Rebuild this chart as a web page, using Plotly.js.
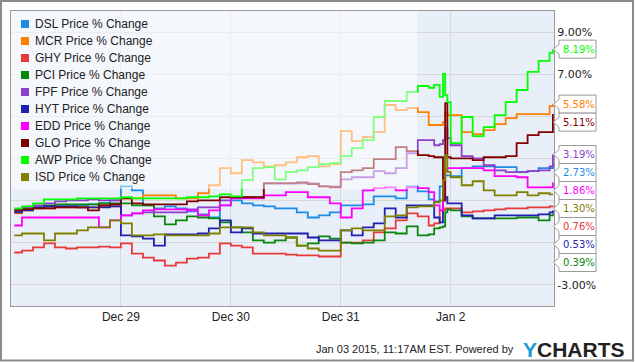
<!DOCTYPE html>
<html>
<head>
<meta charset="utf-8">
<script src="https://cdn.plot.ly/plotly-3.0.1.min.js"></script>
<style>
html,body{margin:0;padding:0;background:#ffffff;}
#chart{width:635px;height:362px;}
</style>
</head>
<body>
<div id="chart"></div>
<script>
// ---- data (x in trading days from Dec 26 open; Dec 29 = 1, Dec 30 = 2, Dec 31 = 3, Jan 2 = 4) ----
const times = [0.03,0.1,0.2,0.3,0.4,0.5,0.6,0.7,0.8,0.9,
  1.0,1.1,1.2,1.3,1.4,1.5,1.6,1.7,1.8,1.9,
  2.0,2.1,2.2,2.3,2.4,2.5,2.6,2.7,2.8,2.9,
  3.0,3.1,3.2,3.3,3.4,3.5,3.6,3.7,3.8,3.85,
  3.9,3.93,3.95,3.97,4.0,4.1,4.2,4.3,4.4,4.5,
  4.6,4.7,4.8,4.9,4.93];

const xTickVals = [1, 2, 3, 4];
const xTickLabels = ['Dec 29', 'Dec 30', 'Dec 31', 'Jan 2'];
const yTickVals = [-3, -1, 1, 3, 5, 7, 9];
const yTickLabels = ['-3.00%', '', '', '', '', '7.00%', '9.00%'];

const seriesNames = ['DSL', 'MCR', 'GHY', 'PCI', 'FPF', 'HYT', 'EDD', 'GLO', 'AWP', 'ISD'];

const dsl = [0.49,0.59,0.63,0.68,0.73,0.73,0.78,0.82,0.87,1.01,
  1.68,1.49,0.78,0.63,0.73,0.63,0.49,0.35,0.20,0.78,
  1.01,0.87,0.78,0.73,0.63,0.63,0.44,0.20,0.30,0.44,
  0.78,0.78,0.82,1.20,1.20,1.11,1.68,1.44,1.06,0.97,
  1.68,2.06,2.20,2.20,2.16,2.54,2.63,2.63,2.59,2.59,
  2.35,2.40,2.54,2.54,2.73];
const mcr = [0.40,0.54,0.63,0.63,0.68,0.68,0.68,0.68,0.73,0.73,
  1.11,1.11,1.25,1.25,1.25,1.11,1.11,1.35,1.73,2.54,
  2.30,2.92,2.82,2.63,2.68,2.82,3.06,3.11,2.63,2.73,
  4.30,3.82,4.01,4.25,5.54,5.30,5.39,5.20,4.59,4.59,
  4.59,4.73,5.16,5.06,5.06,4.25,4.16,4.35,4.63,4.92,
  5.11,5.11,5.11,5.49,5.58];
const ghy = [-1.46,-1.37,-1.22,-1.03,-1.22,-1.27,-1.22,-1.22,-1.18,-1.22,
  -1.03,-1.51,-1.70,-1.84,-2.08,-1.94,-1.75,-1.70,-1.51,-1.03,
  -1.13,-1.22,-1.51,-1.51,-1.51,-1.56,-1.60,-1.60,-1.65,-1.65,
  -0.99,-0.99,-0.89,-0.51,-0.32,0.06,0.40,0.25,-0.18,-0.08,
  0.54,0.54,0.63,0.63,0.63,0.44,0.49,0.54,0.59,0.63,
  0.63,0.68,0.68,0.73,0.76];
const pci = [0.54,0.63,0.68,0.78,0.82,0.82,0.82,0.82,0.87,0.87,
  0.87,0.78,0.78,0.25,-0.13,0.06,0.25,0.20,0.16,-0.03,
  -0.27,-0.51,-0.89,-0.99,-0.89,-0.75,-1.13,-1.03,-0.70,-0.80,
  -0.99,-1.03,-0.99,-0.89,-0.51,-0.56,-0.22,-0.65,-0.60,-0.32,
  -0.27,-0.22,0.44,0.59,0.54,0.25,0.16,0.16,0.16,0.16,
  0.20,0.20,0.06,0.30,0.39];
const fpf = [0.54,0.68,0.78,0.87,0.97,1.01,1.01,1.06,1.01,1.01,
  0.30,0.40,0.44,0.44,0.44,0.44,0.59,0.68,0.68,1.01,
  1.16,1.16,1.16,1.82,1.82,1.82,1.82,1.82,1.68,1.68,
  2.01,2.11,2.11,2.40,2.30,2.54,3.25,3.87,3.87,3.63,
  3.68,3.87,4.44,3.97,3.63,3.11,3.01,2.68,2.44,2.35,
  2.35,2.40,2.44,2.63,3.19];
const hyt = [0.44,0.54,0.68,0.73,0.73,0.73,0.68,0.68,0.68,0.73,
  -0.65,-0.70,-0.80,-1.13,-0.60,-0.60,-0.60,-0.56,-0.32,0.06,
  -0.51,-0.32,-0.56,-0.56,-0.56,-0.56,-0.56,-0.75,-0.89,-0.89,
  -0.41,-0.65,-0.27,-0.08,0.63,0.20,0.78,0.78,0.78,0.20,
  -0.03,1.01,1.16,0.87,0.87,0.30,0.16,0.16,0.30,0.30,
  0.30,0.30,0.35,0.44,0.53];
const edd = [-0.18,0.20,0.20,0.20,0.20,0.20,0.20,0.20,-0.27,0.06,
  0.30,0.40,0.54,0.59,0.59,0.59,0.54,0.30,0.54,0.78,
  1.11,1.11,1.11,1.25,1.25,1.40,1.40,1.16,1.16,0.87,
  0.20,0.63,1.49,1.59,1.63,1.49,1.63,1.59,1.40,0.78,
  0.54,1.25,2.44,2.54,2.54,2.54,2.54,2.44,2.16,2.16,
  2.11,1.63,1.63,1.63,1.86];
const glo = [0.54,0.59,0.63,0.63,0.68,0.68,0.68,0.54,0.78,0.82,
  1.11,0.87,0.82,0.82,0.82,0.82,0.97,1.01,1.01,1.16,
  1.16,1.16,1.16,1.82,1.82,1.82,1.87,1.78,1.68,1.63,
  2.35,2.44,2.54,2.97,2.97,3.54,3.35,3.16,3.11,3.06,
  3.06,1.01,5.63,3.06,3.01,3.01,2.92,3.06,3.06,3.11,
  3.73,4.11,4.25,4.25,5.11];
const awp = [0.63,0.73,0.87,1.06,1.06,1.06,1.11,1.11,1.11,1.11,
  1.16,1.11,1.11,1.11,1.11,1.11,1.16,1.16,1.20,1.30,
  1.20,1.97,2.54,2.59,2.01,2.35,2.44,2.59,2.73,2.78,
  3.11,3.49,3.87,4.97,5.73,5.73,6.16,6.44,6.35,6.49,
  5.92,7.01,6.01,5.68,3.73,4.97,4.06,4.49,5.06,5.68,
  6.25,7.11,7.63,8.01,8.19];
const isd = [-0.65,-0.56,-0.56,-0.89,-0.56,-0.56,-0.41,-0.27,-0.27,0.06,
  -0.08,-0.65,-0.65,-0.60,-0.65,-0.65,-0.65,-0.65,-0.56,-0.27,
  -0.27,-0.27,-0.51,-0.65,-0.65,-0.75,-1.13,-1.27,-1.37,-1.37,
  -0.41,-0.32,-0.41,-0.41,0.25,0.30,0.68,0.73,0.73,0.92,
  1.01,1.97,3.16,2.35,2.11,1.73,1.92,1.49,1.25,1.25,
  1.40,1.25,1.35,1.30,1.30];

const seriesValues = [dsl, mcr, ghy, pci, fpf, hyt, edd, glo, awp, isd];

// ---- styles ----
const seriesColors = ['#1b8de8', '#fe8001', '#e83a3a', '#0a870a', '#8c3fc8',
                      '#1f1fb0', '#ff00ff', '#800000', '#00ff00', '#808000'];

const W = 635, H = 362, ML = 11, MR = 81, MT = 11, MB = 56;
const plotW = W - ML - MR, plotH = H - MT - MB;
const yMin = -4, yMax = 10, xMin = 0, xMax = 4.94;
const PX = px => (px - ML) / plotW;          // pixel x -> paper x
const PY = py => (H - MB - py) / plotH;      // pixel y -> paper y
const valToPy = v => MT + (yMax - v) * plotH / (yMax - yMin);

const traces = seriesValues.map((vals, i) => ({
  x: times, y: vals, type: 'scatter', mode: 'lines',
  name: seriesNames[i] + ' Price % Change',
  line: {color: seriesColors[i], width: 1.8, shape: 'hv'},
  showlegend: false, hoverinfo: 'skip'
}));

const shapes = [];
const annotations = [];

// legend backdrop (semi-transparent white box)
shapes.push({type: 'rect', xref: 'paper', yref: 'paper', layer: 'above',
  x0: 0, x1: PX(417), y0: PY(189), y1: 1,
  fillcolor: 'rgba(255,255,255,0.5)', line: {width: 0}});

// legend entries
seriesNames.forEach((n, i) => {
  const cy = 24 + i * 17;
  shapes.push({type: 'rect', xref: 'paper', yref: 'paper', layer: 'above',
    x0: PX(21), x1: PX(29), y0: PY(cy + 4), y1: PY(cy - 4),
    fillcolor: seriesColors[i], line: {width: 0}});
  annotations.push({xref: 'paper', yref: 'paper', x: PX(32.5), y: PY(cy),
    xanchor: 'left', yanchor: 'middle', showarrow: false,
    text: n + ' Price % Change',
    font: {family: 'Liberation Sans, Arial, sans-serif', size: 12, color: '#222'}});
});

// value flags on the right
const lastVals = seriesValues.map(s => s[s.length - 1]);
const order = seriesNames.map((n, i) => i).sort((a, b) => lastVals[b] - lastVals[a]);
let prev = -1e9;
order.forEach(i => {
  const py = Math.max(valToPy(lastVals[i]), prev + 18);
  prev = py;
  const path = 'M ' + PX(559) + ',' + PY(py - 9) +
    ' L ' + PX(596) + ',' + PY(py - 9) +
    ' L ' + PX(596) + ',' + PY(py + 9) +
    ' L ' + PX(559) + ',' + PY(py + 9) +
    ' L ' + PX(559) + ',' + PY(py + 5) +
    ' L ' + PX(553.5) + ',' + PY(py) +
    ' L ' + PX(559) + ',' + PY(py - 5) + ' Z';
  shapes.push({type: 'path', xref: 'paper', yref: 'paper', layer: 'above', path: path,
    fillcolor: '#ffffff', line: {color: '#9a9a9a', width: 1}});
  annotations.push({xref: 'paper', yref: 'paper', x: PX(561), y: PY(py),
    xanchor: 'left', yanchor: 'middle', showarrow: false,
    text: lastVals[i].toFixed(2) + '%',
    font: {family: 'DejaVu Sans, sans-serif', size: 10, color: seriesColors[i]}});
});

// outer frame
shapes.push({type: 'rect', xref: 'paper', yref: 'paper', layer: 'above',
  x0: PX(1), x1: PX(633), y0: PY(360.5), y1: PY(1),
  fillcolor: 'rgba(0,0,0,0)', line: {color: '#8c8c8c', width: 2}});

// footer
annotations.push({xref: 'paper', yref: 'paper', x: PX(516), y: PY(349),
  xanchor: 'right', yanchor: 'middle', showarrow: false,
  text: 'Jan 03 2015, 11:17AM EST. Powered by',
  font: {family: 'Liberation Sans, Arial, sans-serif', size: 11, color: '#222'}});
annotations.push({xref: 'paper', yref: 'paper', x: PX(521), y: PY(349),
  xanchor: 'left', yanchor: 'middle', showarrow: false,
  text: '<b><span style="color:#1b9ad6">Y</span>CHARTS</b>',
  font: {family: 'Liberation Sans, Arial, sans-serif', size: 21, color: '#222'}});

const layout = {
  width: W, height: H,
  margin: {l: ML, r: MR, t: MT, b: MB, pad: 0},
  paper_bgcolor: '#ffffff',
  plot_bgcolor: '#e9eff9',
  showlegend: false,
  xaxis: {
    range: [xMin, xMax], tickvals: xTickVals, ticktext: xTickLabels,
    showgrid: true, gridcolor: '#d8d8d8', gridwidth: 1, zeroline: false,
    showline: true, linecolor: '#9a9a9a', linewidth: 1, mirror: true,
    ticks: '', ticklabelstandoff: 0,
    tickfont: {family: 'Liberation Sans, Arial, sans-serif', size: 12, color: '#222'},
    fixedrange: true
  },
  yaxis: {
    range: [yMin, yMax], side: 'right', tickvals: yTickVals, ticktext: yTickLabels,
    showgrid: true, gridcolor: '#d8d8d8', gridwidth: 1, zeroline: false,
    showline: true, linecolor: '#9a9a9a', linewidth: 1, mirror: true,
    ticks: '', ticklabelstandoff: 0,
    tickfont: {family: 'DejaVu Sans, sans-serif', size: 11, color: '#222'},
    fixedrange: true
  },
  shapes: shapes,
  annotations: annotations
};

Plotly.newPlot('chart', traces, layout, {displayModeBar: false, staticPlot: true});
</script>
</body>
</html>
